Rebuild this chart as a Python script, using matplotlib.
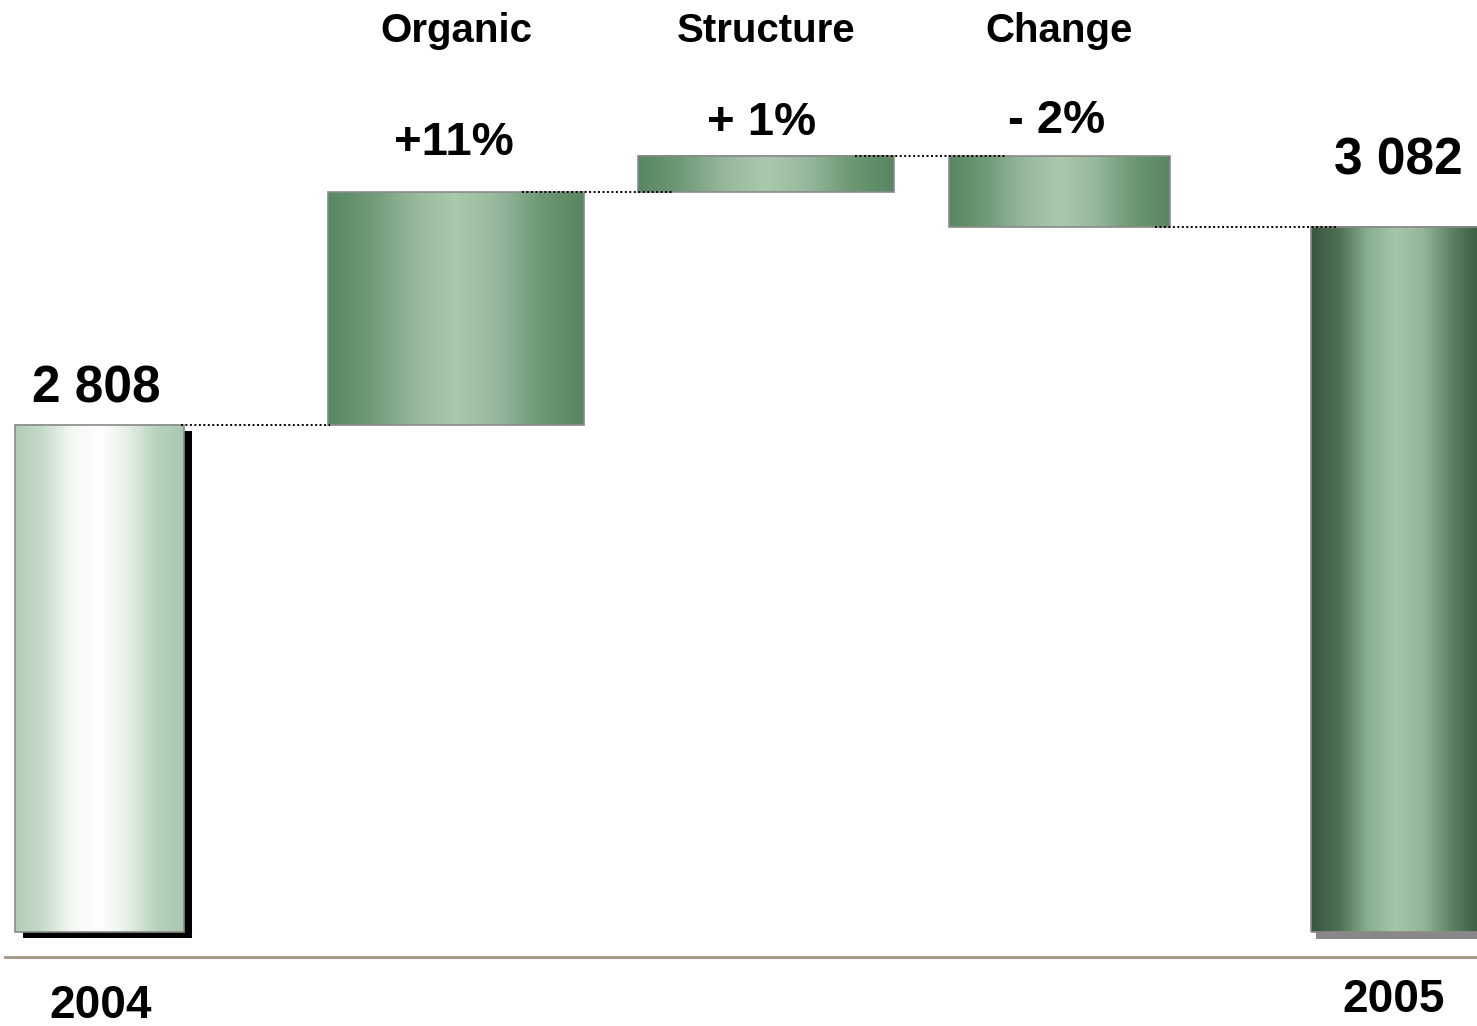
#!/usr/bin/env python3
"""sales bridge 2004 -> 2005 (waterfall with gradient bars)"""

import numpy as np
import matplotlib
matplotlib.use("Agg")
import matplotlib.pyplot as plt
from matplotlib.colors import LinearSegmentedColormap
from matplotlib.patches import Rectangle

# data
years = ["2004", "2005"]
totals = [2808, 3082]
steps = ["Organic", "Structure", "Change"]
step_values = [322, 50, -98]
step_labels = ["+11%", "+ 1%", "- 2%"]
total_labels = ["2 808", "3 082"]

# layout (x in pixels, value axis does not start at zero)
W, H = 1477, 1026
base = 2106
vmin, vmax = 1976, 3396
unit = (vmax - vmin) / H          # value units per pixel

bar_x = [(15, 184), (328, 584), (638, 894), (949, 1170), (1311, 1481)]
connectors = [(181, 330), (522, 673), (855, 1007), (1155, 1337)]

start_stops = ["#b0cdb5", "#c8dccb", "#f4f8f4", "#ffffff", "#e6efe7", "#b9d3bd", "#a8c8ae"]
step_stops = ["#578762", "#6f9a78", "#97b79d", "#aac8ae", "#97b79d", "#6c9874", "#568661"]
end_stops = ["#385640", "#4f7054", "#8aae90", "#a6c6aa", "#93b497", "#5d7f62", "#3a5a40"]

plt.rcParams["font.family"] = ["Liberation Sans", "DejaVu Sans"]
plt.rcParams["font.weight"] = "bold"


def to_val(py):
    """pixel row from top -> value on the y axis"""
    return vmax - py * unit


def grad_bar(ax, x0, x1, y0, y1, stops, z=3):
    cmap = LinearSegmentedColormap.from_list("g", stops)
    grad = np.linspace(0, 1, 256).reshape(1, -1)
    ax.imshow(grad, cmap=cmap, extent=(x0, x1, y0, y1), aspect="auto",
              interpolation="bicubic", zorder=z)
    ax.add_patch(Rectangle((x0, y0), x1 - x0, y1 - y0, fill=False,
                           edgecolor="#8a8a8a", linewidth=1.2, zorder=z + 0.1))


fig = plt.figure(figsize=(W / 100, H / 100), dpi=100)
ax = fig.add_axes([0, 0, 1, 1])

# shadows
x0, x1 = bar_x[0]
ax.add_patch(Rectangle((x0 + 8, base - 6 * unit), x1 - x0, totals[0] - base,
                       facecolor="black", edgecolor="none", zorder=2))
x0, x1 = bar_x[-1]
ax.add_patch(Rectangle((x0 + 5, base - 7 * unit), x1 - x0, totals[1] - base,
                       facecolor="#888888", edgecolor="none", zorder=2))

# total bars
grad_bar(ax, *bar_x[0], base, totals[0], start_stops)
grad_bar(ax, *bar_x[-1], base, totals[1], end_stops)

# floating step bars
level = totals[0]
levels = [level]
for i, v in enumerate(step_values):
    lo, hi = sorted((level, level + v))
    grad_bar(ax, *bar_x[i + 1], lo, hi, step_stops)
    level += v
    levels.append(level)

# dotted connectors between bars
for (cx0, cx1), lv in zip(connectors, levels):
    ax.plot([cx0, cx1], [lv, lv], color="black", linewidth=1.4,
            linestyle=(0, (1, 1.3)), zorder=5)

# baseline
ax.plot([5, W], [to_val(957), to_val(957)], color="#a39383", linewidth=2, zorder=1)

# text
for i, name in enumerate(steps):
    cx = sum(bar_x[i + 1]) / 2
    ax.text(cx, to_val(42), name, ha="center", va="baseline", fontsize=29,
            fontweight="bold")
pct_y = [155, 135, 133]
pct_x = [454, 762, 1057]
for lab, px, py in zip(step_labels, pct_x, pct_y):
    ax.text(px, to_val(py), lab, ha="center", va="baseline", fontsize=34,
            fontweight="bold")

ax.text(96, to_val(403), total_labels[0], ha="center", va="baseline",
        fontsize=37, fontweight="bold")
ax.text(1398, to_val(175), total_labels[1], ha="center", va="baseline",
        fontsize=37, fontweight="bold")
ax.text(101, to_val(1018), years[0], ha="center", va="baseline",
        fontsize=33, fontweight="bold")
ax.text(1394, to_val(1012), years[1], ha="center", va="baseline",
        fontsize=33, fontweight="bold")

ax.set_xlim(0, W)
ax.set_ylim(vmin, vmax)
ax.axis("off")

fig.savefig("out.png", dpi=100)
